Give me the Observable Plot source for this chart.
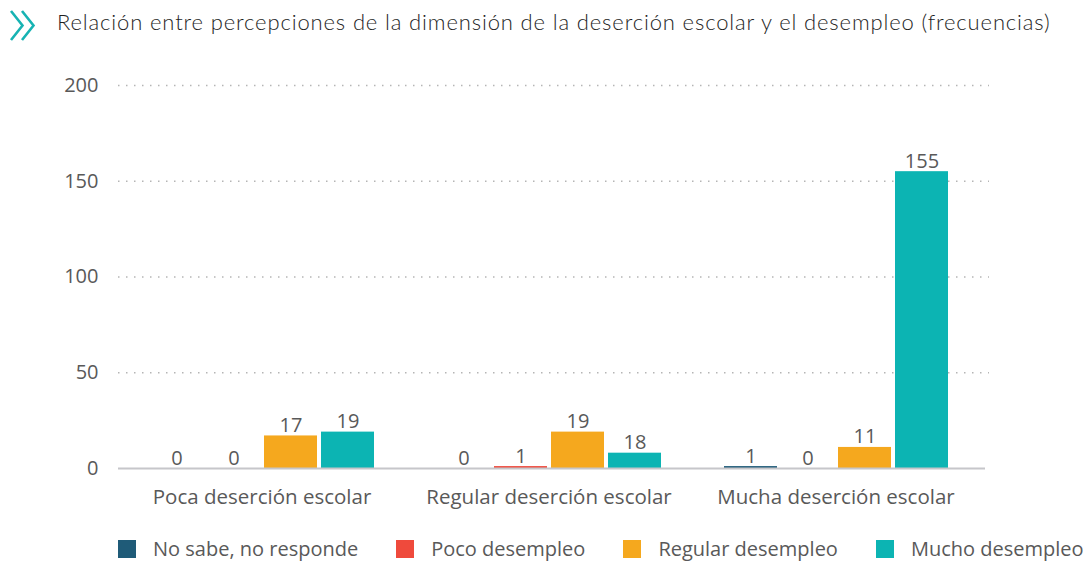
<!DOCTYPE html>
<html>
<head>
<meta charset="utf-8">
<script src="https://cdn.jsdelivr.net/npm/d3@7"></script>
<script src="https://cdn.jsdelivr.net/npm/@observablehq/plot@0.6"></script>
<style>
  html, body { margin: 0; padding: 0; background: #fff; }
  #wrap { position: relative; width: 1088px; height: 561px; overflow: hidden; }
  #title { position: absolute; left: 0; top: 0; height: 48px; width: 1088px;
           font-family: Lato, "Noto Sans", sans-serif; font-size: 22px; font-weight: 300; letter-spacing: 0.86px; color: #1e1e1e; }
  #title svg { position: absolute; left: 9px; top: 9px; }
  #title span { position: absolute; left: 57px; top: 8px; white-space: nowrap; }
  #chart { position: absolute; left: 0; top: 48px; }
  #legend { position: absolute; left: 118px; top: 535px; display: flex; align-items: center;
            font-family: "Open Sans", "Noto Sans", sans-serif; font-size: 20px; color: #595959; white-space: nowrap; }
  .item { display: flex; align-items: center; margin-right: 38px; }
  .sw { width: 18px; height: 18px; margin-right: 17px; }
</style>
</head>
<body>
<div id="wrap">
  <div id="title">
    <svg width="29" height="33" viewBox="0 0 29 33">
      <polyline points="2,2 13.5,16.5 2,31" fill="none" stroke="#17b3b3" stroke-width="2.6"/>
      <polyline points="13,2 24.5,16.5 13,31" fill="none" stroke="#17b3b3" stroke-width="2.6"/>
    </svg>
    <span>Relación entre percepciones de la dimensión de la deserción escolar y el desempleo (frecuencias)</span>
  </div>
  <div id="chart"></div>
  <div id="legend"></div>
</div>
<script>
const groups = ["Poca deserción escolar", "Regular deserción escolar", "Mucha deserción escolar"];
const series = ["No sabe, no responde", "Poco desempleo", "Regular desempleo", "Mucho desempleo"];
const colors = ["#1f5b78", "#ef4a3c", "#f5a81e", "#0cb4b3"];
// values (labels as printed)
const noSabe  = [0, 0, 1];
const poco    = [0, 1, 0];
const regular = [17, 19, 11];
const mucho   = [19, 18, 155];
// bar heights as drawn in the source (the "18" bar is drawn at about 8)
const muchoDrawn = [19, 8, 155];
const yTicks = [0, 50, 100, 150, 200];

const printed = [noSabe, poco, regular, mucho];
const drawn = [noSabe, poco, regular, muchoDrawn];
const data = [];
groups.forEach((g, gi) => series.forEach((s, si) => {
  data.push({group: g, series: s, value: drawn[si][gi], label: String(printed[si][gi])});
}));

const gridVals = yTicks.filter(d => d > 0);
const lastGroup = groups[groups.length - 1];
const gridInner = groups.slice(0, -1).flatMap(g => gridVals.map(v => ({group: g, y: v})));
const gridLast = gridVals.map(v => ({group: lastGroup, y: v}));
const baseInner = groups.slice(0, -1).map(g => ({group: g, y: 0}));
const baseLast = [{group: lastGroup, y: 0}];
const gridStyle = {stroke: "#b5b5b5", strokeWidth: 1.6, strokeDasharray: "1.5,6.5"};
const baseStyle = {stroke: "#c6c6ca", strokeWidth: 2};

const font = "'Open Sans', 'Noto Sans', sans-serif";
const chart = Plot.plot({
  width: 1088, height: 475,
  marginLeft: 118, marginRight: 109, marginTop: 37, marginBottom: 55,
  style: {fontFamily: font, fontSize: "20px", color: "#595959", background: "transparent"},
  fx: {domain: groups, padding: 0, label: null},
  x: {domain: series, axis: null, paddingInner: 0.075, paddingOuter: 0.542},
  y: {domain: [0, 200], label: null},
  color: {domain: series, range: colors},
  marks: [
    Plot.ruleY(gridInner, {fx: "group", y: "y", ...gridStyle}),
    Plot.ruleY(gridLast, {fx: "group", y: "y", insetRight: -10, ...gridStyle}),
    Plot.axisY({ticks: yTicks, tickSize: 0, tickPadding: 20, label: null, fontSize: 20, fill: "#595959"}),
    Plot.axisFx({anchor: "bottom", tickSize: 0, tickPadding: 21, label: null, fontSize: 20.5, fill: "#595959"}),
    Plot.barY(data, {fx: "group", x: "series", y: "value", fill: "series"}),
    Plot.ruleY(baseInner, {fx: "group", y: "y", ...baseStyle}),
    Plot.ruleY(baseLast, {fx: "group", y: "y", insetRight: -6, ...baseStyle}),
    Plot.text(data, {fx: "group", x: "series", y: "value", text: "label", lineAnchor: "bottom", dy: -4, fontSize: 20, fill: "#595959"})
  ]
});
document.getElementById("chart").appendChild(chart);

const legend = document.getElementById("legend");
series.forEach((s, i) => {
  const it = document.createElement("div");
  it.className = "item";
  const sw = document.createElement("div");
  sw.className = "sw";
  sw.style.background = colors[i];
  const t = document.createElement("span");
  t.textContent = s;
  it.appendChild(sw); it.appendChild(t);
  legend.appendChild(it);
});
</script>
</body>
</html>
